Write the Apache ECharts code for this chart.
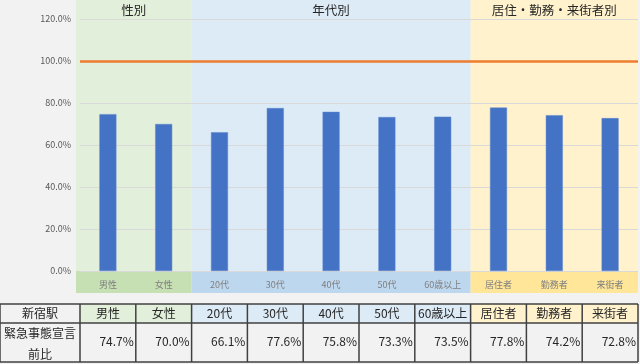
<!DOCTYPE html>
<html><head><meta charset="utf-8">
<script src="https://cdn.jsdelivr.net/npm/echarts@6/dist/echarts.min.js"></script>
<style>html,body{margin:0;padding:0;background:#f2f2f2;}#c{width:640px;height:364px;}</style>
</head><body><div id="c"></div>
<script>
var categories = ['男性','女性','20代','30代','40代','50代','60歳以上','居住者','勤務者','来街者'];
var values = [74.7, 70.0, 66.1, 77.6, 75.8, 73.3, 73.5, 77.8, 74.2, 72.8];
var tableLabels = ['74.7%','70.0%','66.1%','77.6%','75.8%','73.3%','73.5%','77.8%','74.2%','72.8%'];
var groups = [
  {name:'性別', from:0, to:2, bg:'#e2efda', band:'#c6e0b4'},
  {name:'年代別', from:2, to:7, bg:'#ddebf7', band:'#bdd7ee'},
  {name:'居住・勤務・来街者別', from:7, to:10, bg:'#fff2cc', band:'#ffe699'}
];
var refLine = 100;
var stationName = '新宿駅';
var rowTitle = ['緊急事態宣言','前比'];

var FONT = '"Noto Sans CJK JP", "Noto Sans", sans-serif';
var chart = echarts.init(document.getElementById('c'));
var option = {
  backgroundColor: '#f2f2f2',
  animation: false,
  grid: {left: 80, right: 2, top: 19, bottom: 93},
  xAxis: {
    type: 'category', data: categories,
    axisLine: {show: false}, axisTick: {show: false},
    axisLabel: {color: '#7f7f7f', fontSize: 9, margin: 9, fontFamily: FONT}
  },
  yAxis: {
    type: 'value', min: 0, max: 120, interval: 20,
    axisLabel: {color: '#595959', fontSize: 9, margin: 9, fontFamily: FONT,
      formatter: function(v){ return v.toFixed(1) + '%'; }},
    splitLine: {lineStyle: {color: '#d9d9d9', width: 1}}
  },
  series: [{
    type: 'bar', data: values, barWidth: 17,
    itemStyle: {color: '#4472c4', borderColor: '#5b86d1', borderWidth: 0.5},
    markLine: {
      silent: true, symbol: 'none', label: {show: false},
      lineStyle: {color: '#ed7d31', width: 2.5, type: 'solid'},
      data: [{yAxis: refLine}]
    }
  }]
};
chart.setOption(option);

var c0 = chart.convertToPixel({xAxisIndex: 0}, categories[0]);
var c1 = chart.convertToPixel({xAxisIndex: 0}, categories[1]);
var bw = c1 - c0;
function bound(i){ return c0 - bw/2 + i*bw; }
var y0 = chart.convertToPixel({yAxisIndex: 0}, 0);
var bandH = 22;
var els = [];
groups.forEach(function(g, gi){
  var x1 = bound(g.from) - (gi === 0 ? 4 : 0);
  var x2 = bound(g.to);
  els.push({type:'rect', z:-10, silent:true, shape:{x:x1, y:0, width:x2-x1, height:y0}, style:{fill:g.bg}});
  els.push({type:'rect', z:-10, silent:true, shape:{x:x1, y:y0, width:x2-x1, height:bandH}, style:{fill:g.band}});
  els.push({type:'text', z:10, silent:true, style:{text:g.name, x:(x1+x2)/2, y:10, align:'center', verticalAlign:'middle',
    font:'12.5px ' + FONT, fill:'#262626'}});
});
// table
var tTop = 304, tMid = 323, tBot = 362;
var colX = [0, 80];
for (var i = 1; i <= categories.length; i++) colX.push(bound(i));
var TF = '12px ' + FONT;
els.push({type:'rect', z:5, shape:{x:colX[0], y:tTop, width:colX[1]-colX[0], height:tMid-tTop}, style:{fill:'#f2f2f2'}});
els.push({type:'text', z:12, style:{text:stationName, x:(colX[0]+colX[1])/2, y:(tTop+tMid)/2, align:'center', verticalAlign:'middle', font:TF, fill:'#262626'}});
els.push({type:'text', z:12, style:{text:rowTitle[0], x:(colX[0]+colX[1])/2, y:333, align:'center', verticalAlign:'middle', font:TF, fill:'#262626'}});
els.push({type:'text', z:12, style:{text:rowTitle[1], x:(colX[0]+colX[1])/2, y:354, align:'center', verticalAlign:'middle', font:TF, fill:'#262626'}});
categories.forEach(function(cat, i){
  var g = groups.filter(function(gg){ return i >= gg.from && i < gg.to; })[0];
  var xa = colX[i+1], xb = colX[i+2];
  els.push({type:'rect', z:5, shape:{x:xa, y:tTop, width:xb-xa, height:tMid-tTop}, style:{fill:g.bg}});
  els.push({type:'text', z:12, style:{text:cat, x:(xa+xb)/2, y:(tTop+tMid)/2, align:'center', verticalAlign:'middle', font:TF, fill:'#262626'}});
  els.push({type:'text', z:12, style:{text:tableLabels[i], x:xb-2, y:341, align:'right', verticalAlign:'middle', font:TF, fill:'#262626'}});
});
[tTop, tMid, tBot].forEach(function(y){
  els.push({type:'line', z:11, shape:{x1:0, y1:y, x2:colX[colX.length-1], y2:y}, style:{stroke:'#404040', lineWidth:1.5}});
});
colX.forEach(function(x){
  els.push({type:'line', z:11, shape:{x1:x, y1:tTop, x2:x, y2:tBot}, style:{stroke:'#404040', lineWidth:1.5}});
});
chart.setOption({graphic: {elements: els}});
</script></body></html>
